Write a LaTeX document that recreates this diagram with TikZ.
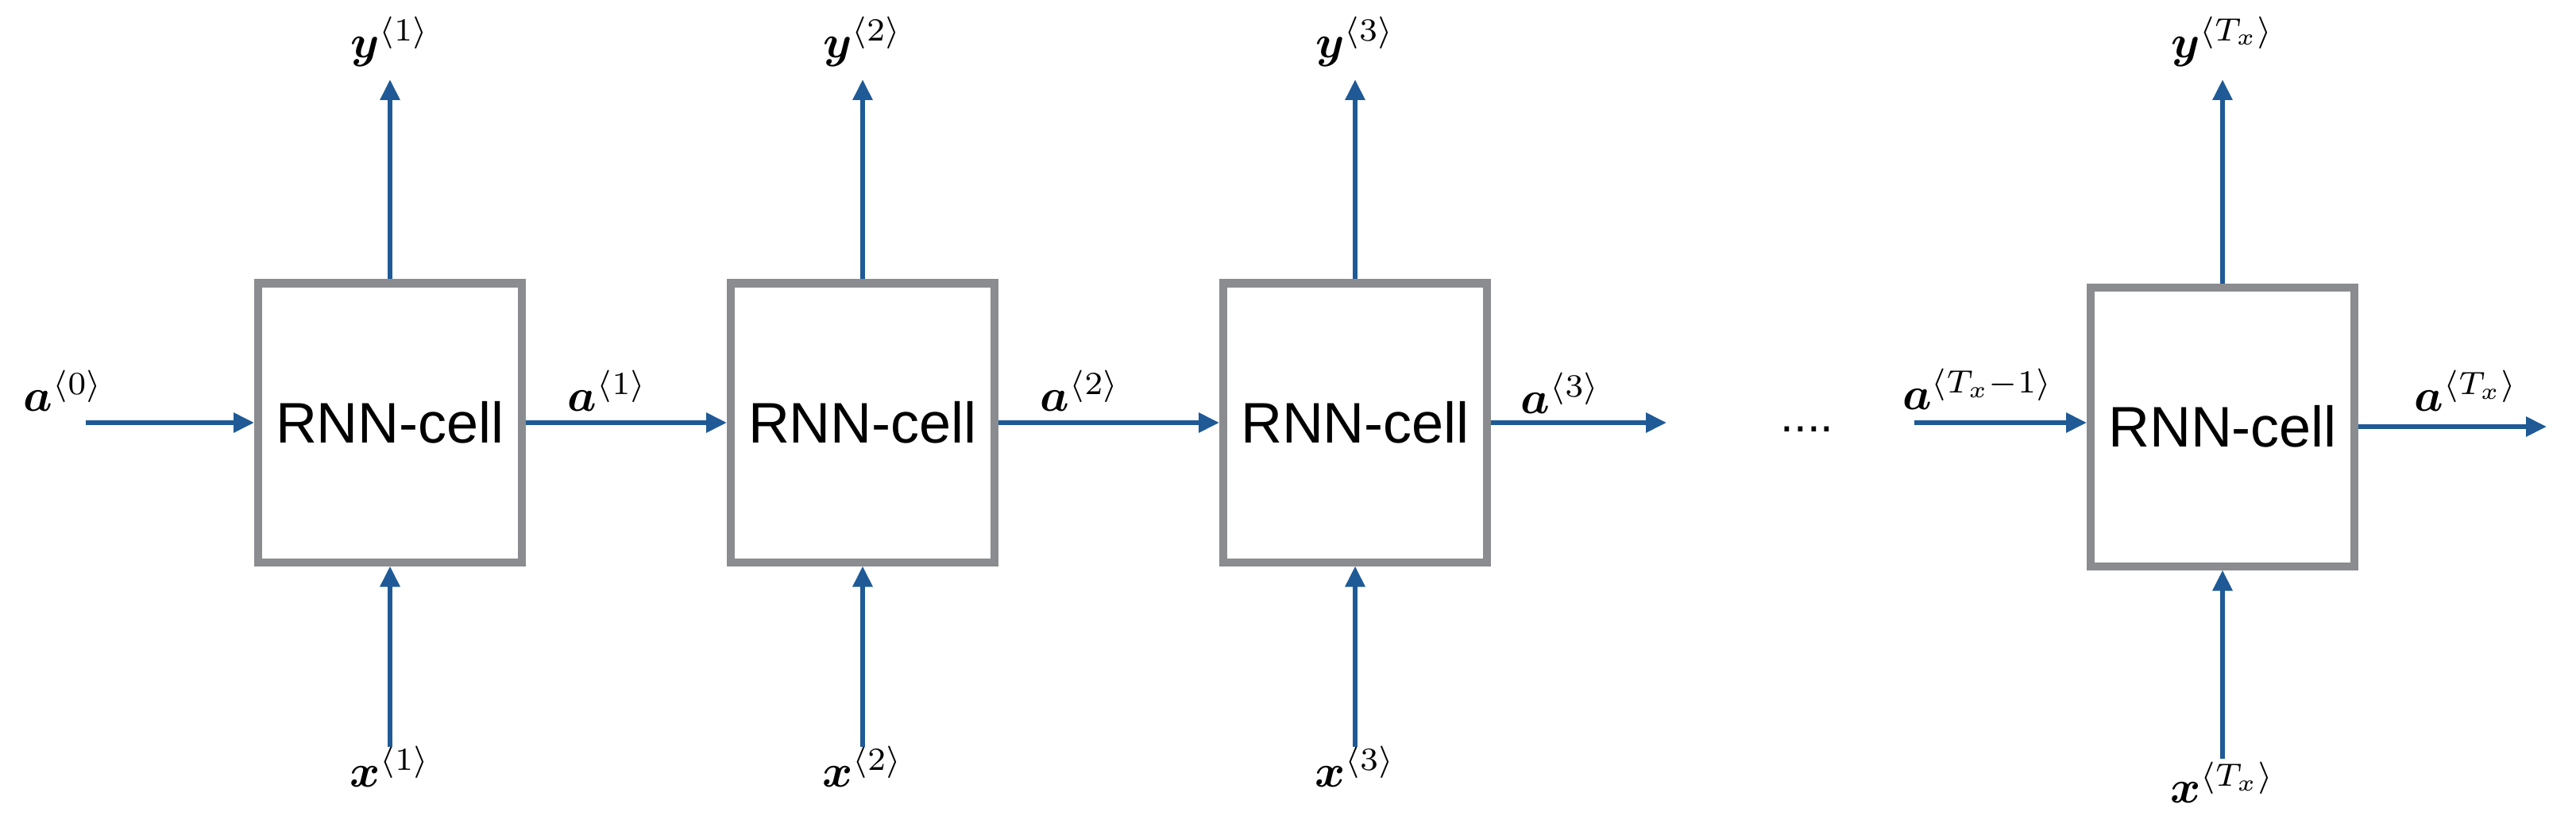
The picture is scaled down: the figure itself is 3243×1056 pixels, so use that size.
\documentclass[tikz,border=0pt]{standalone}
\usepackage{amsmath}
\usepackage{amssymb}
\usepackage{bm}
\usepackage{fontspec}
\setsansfont{Liberation Sans}
\usetikzlibrary{arrows.meta}
\definecolor{arrowblue}{HTML}{1F5A96}
\definecolor{boxgray}{HTML}{8A8C8F}
\newcommand{\biglab}[1]{\scalebox{5.8}{$#1$}}
\begin{document}
\begin{tikzpicture}[
  x=1pt, y=-1pt,
  cell/.style={draw=boxgray, line width=10pt, minimum width=332pt, minimum height=351pt,
    font=\sffamily\fontsize{72}{80}\selectfont, inner sep=0pt},
  conn/.style={draw=arrowblue, line width=6pt, -{Triangle[length=26pt,width=24pt]}},
  lab/.style={inner sep=0pt}
]
\useasboundingbox (0,0) rectangle (3243,1056);

% cells
\node[cell] (c1) at (491,532) {RNN-cell};
\node[cell] (c2) at (1086,532) {RNN-cell};
\node[cell] (c3) at (1706,532) {RNN-cell};
\node[cell] (c4) at (2798,537) {RNN-cell};

% outputs
\node[lab] (y1) at (491,52) {\biglab{\bm{y}^{\langle 1\rangle}}};
\node[lab] (y2) at (1086,52) {\biglab{\bm{y}^{\langle 2\rangle}}};
\node[lab] (y3) at (1706,52) {\biglab{\bm{y}^{\langle 3\rangle}}};
\node[lab] (y4) at (2798,52) {\biglab{\bm{y}^{\langle T_x\rangle}}};
\coordinate (t1) at (491,100);
\coordinate (t2) at (1086,100);
\coordinate (t3) at (1706,100);
\coordinate (t4) at (2798,100);

% inputs
\node[lab] (x1) at (491,965) {\biglab{\bm{x}^{\langle 1\rangle}}};
\node[lab] (x2) at (1086,965) {\biglab{\bm{x}^{\langle 2\rangle}}};
\node[lab] (x3) at (1706,965) {\biglab{\bm{x}^{\langle 3\rangle}}};
\node[lab] (x4) at (2798,985) {\biglab{\bm{x}^{\langle T_x\rangle}}};
\coordinate (b1) at (491,940);
\coordinate (b2) at (1086,940);
\coordinate (b3) at (1706,940);
\coordinate (b4) at (2798,955);

% hidden states
\node[lab] (a0) at (80,492) {\biglab{\bm{a}^{\langle 0\rangle}}};
\node[lab] (a1) at (765,492) {\biglab{\bm{a}^{\langle 1\rangle}}};
\node[lab] (a2) at (1360,492) {\biglab{\bm{a}^{\langle 2\rangle}}};
\node[lab] (a3) at (1965,495) {\biglab{\bm{a}^{\langle 3\rangle}}};
\node[lab] (a4) at (2490,490) {\biglab{\bm{a}^{\langle T_x-1\rangle}}};
\node[lab] (a5) at (3105,492) {\biglab{\bm{a}^{\langle T_x\rangle}}};
\node[lab] (dots) at (2275,540) {\sffamily\fontsize{60}{70}\selectfont ....};
\coordinate (s0) at (108,532);
\coordinate (e3) at (2098,532);
\coordinate (s4) at (2410,532);
\coordinate (e5) at (3206,537);

\draw[conn] (c1.north) -- (t1);
\draw[conn] (c2.north) -- (t2);
\draw[conn] (c3.north) -- (t3);
\draw[conn] (c4.north) -- (t4);
\draw[conn] (b1) -- (c1.south);
\draw[conn] (b2) -- (c2.south);
\draw[conn] (b3) -- (c3.south);
\draw[conn] (b4) -- (c4.south);

\draw[conn] (s0) -- (c1.west);
\draw[conn] (c1.east) -- (c2.west);
\draw[conn] (c2.east) -- (c3.west);
\draw[conn] (c3.east) -- (e3);
\draw[conn] (s4) -- (s4 -| c4.west);
\draw[conn] (c4.east) -- (e5);
\end{tikzpicture}
\end{document}
